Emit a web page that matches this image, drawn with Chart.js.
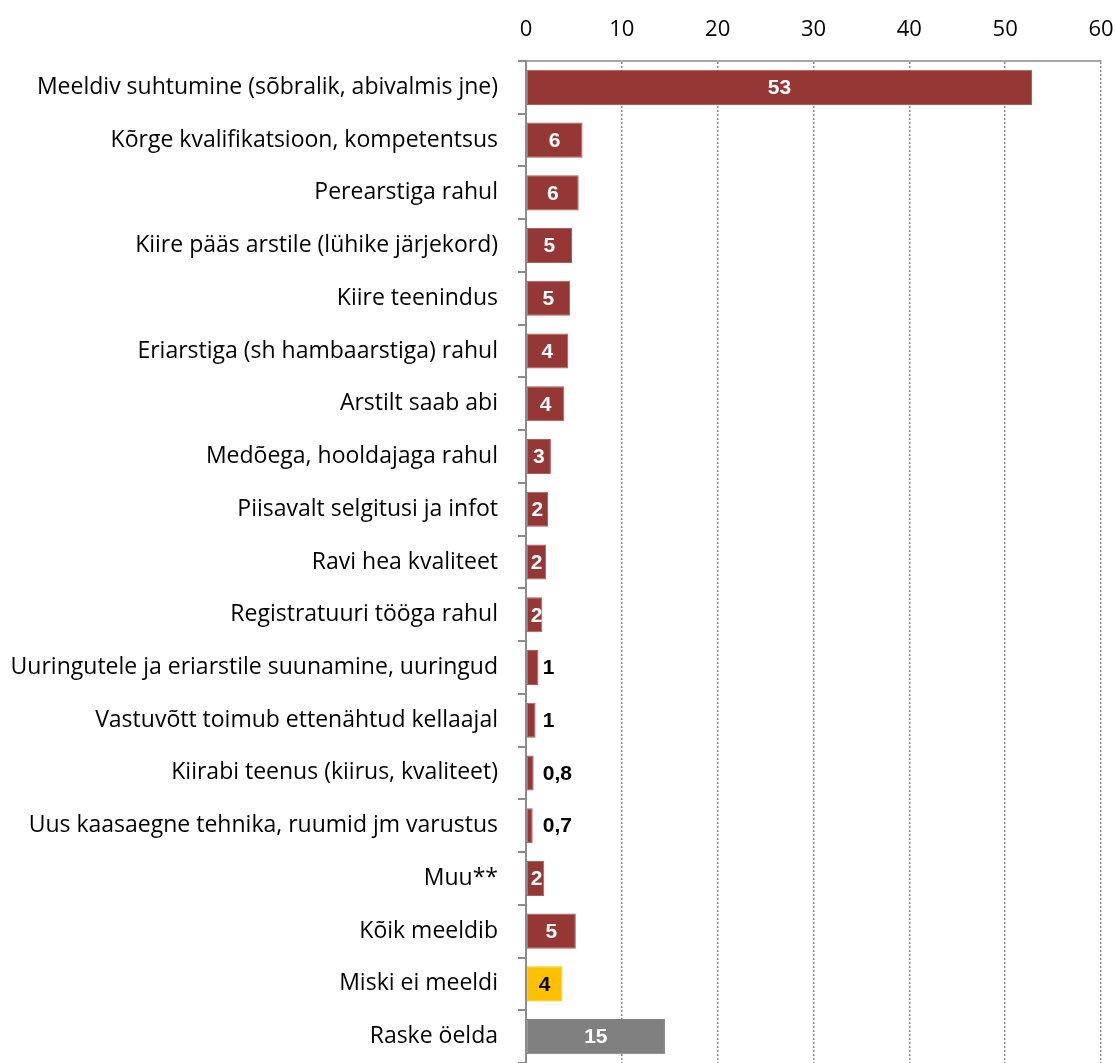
<!DOCTYPE html>
<html>
<head>
<meta charset="utf-8">
<script src="https://cdn.jsdelivr.net/npm/chart.js@4/dist/chart.umd.min.js"></script>
<style>
  html, body { margin: 0; padding: 0; background: #fff; overflow: hidden; }
  canvas { display: block; }
</style>
</head>
<body>
<canvas id="chart" width="1115" height="1063"></canvas>
<script>
'use strict';

// categories as they appear top to bottom
let categories = [
  'Meeldiv suhtumine (sõbralik, abivalmis jne)',
  'Kõrge kvalifikatsioon, kompetentsus',
  'Perearstiga rahul',
  'Kiire pääs arstile (lühike järjekord)',
  'Kiire teenindus',
  'Eriarstiga (sh hambaarstiga) rahul',
  'Arstilt saab abi',
  'Medõega, hooldajaga rahul',
  'Piisavalt selgitusi ja infot',
  'Ravi hea kvaliteet',
  'Registratuuri tööga rahul',
  'Uuringutele ja eriarstile suunamine, uuringud',
  'Vastuvõtt toimub ettenähtud kellaajal',
  'Kiirabi teenus (kiirus, kvaliteet)',
  'Uus kaasaegne tehnika, ruumid jm varustus',
  'Muu**',
  'Kõik meeldib',
  'Miski ei meeldi',
  'Raske öelda'
];

// percentages
let values = [52.8, 5.9, 5.5, 4.8, 4.6, 4.4, 4.0, 2.6, 2.3, 2.1, 1.7, 1.3, 1.0, 0.8, 0.7, 1.9, 5.2, 3.8, 14.5];

// tick labels on the top axis
let tickValues = [0, 10, 20, 30, 40, 50, 60];

let barColors = categories.map(function (c) {
  if (c === 'Miski ei meeldi') return '#FFC000';
  if (c === 'Raske öelda') return '#808080';
  return '#953735';
});
let borderColors = categories.map(function (c) {
  if (c === 'Miski ei meeldi') return '#FFC000';
  if (c === 'Raske öelda') return '#808080';
  return '#B25C5A';
});

function formatValue(v) {
  if (v < 1) return v.toFixed(1).replace('.', ',');
  return String(Math.round(v));
}

// draws the value on each bar (small ones go just right of the bar)
const valueLabels = {
  id: 'valueLabels',
  afterDatasetsDraw(chart) {
    let ctx = chart.ctx;
    let meta = chart.getDatasetMeta(0);
    ctx.save();
    ctx.font = 'bold 21px "Liberation Sans", Arial, sans-serif';
    ctx.textBaseline = 'middle';
    meta.data.forEach(function (bar, i) {
      let v = values[i];
      let text = formatValue(v);
      if (v >= 1.5) {
        ctx.textAlign = 'center';
        ctx.fillStyle = categories[i] === 'Miski ei meeldi' ? '#000' : '#fff';
        let x = (bar.x + bar.base) / 2;
        let w = ctx.measureText(text).width;
        if (x - w / 2 < bar.base + 4) x = bar.base + 4 + w / 2;
        ctx.fillText(text, x, bar.y + 1);
      } else {
        ctx.textAlign = 'left';
        ctx.fillStyle = '#000';
        ctx.fillText(text, Math.max(bar.x + 4, bar.base + 16), bar.y + 1);
      }
    });
    ctx.restore();
  }
};

let ctx = document.getElementById('chart').getContext('2d');

let chartObject = new Chart(ctx, {
  type: 'bar',
  data: {
    labels: categories,
    datasets: [{
      data: values,
      backgroundColor: barColors,
      borderColor: borderColors,
      borderWidth: 1,
      borderSkipped: false,
      categoryPercentage: 1,
      barPercentage: 0.665
    }]
  },
  options: {
    indexAxis: 'y',
    responsive: false,
    animation: false,
    layout: { padding: { left: 0, right: 14, top: 0, bottom: 0 } },
    plugins: {
      legend: { display: false },
      tooltip: { enabled: false }
    },
    scales: {
      x: {
        position: 'top',
        min: 0,
        max: 60,
        afterBuildTicks(scale) {
          scale.ticks = tickValues.map(function (v) { return { value: v }; });
        },
        afterFit(scale) {
          scale.height = 61;
          scale.paddingLeft = 0;
          scale.paddingRight = 0;
        },
        grid: {
          color: '#8c8c8c',
          lineWidth: 1.5,
          drawTicks: false
        },
        border: { display: true, color: '#a6a6a6', width: 2, dash: [2, 2] },
        ticks: {
          color: '#000',
          padding: 18,
          font: { family: '"Open Sans", sans-serif', size: 22 }
        }
      },
      y: {
        afterFit(scale) {
          scale.width = 526;
          scale.paddingTop = 0;
          scale.paddingBottom = 0;
        },
        grid: {
          display: true,
          drawOnChartArea: false,
          drawTicks: true,
          tickLength: 8,
          color: '#8c8c8c',
          lineWidth: 2
        },
        border: { display: true, color: '#8c8c8c', width: 2 },
        ticks: {
          color: '#000',
          padding: 20,
          autoSkip: false,
          font: { family: '"Open Sans", sans-serif', size: 23 }
        }
      }
    }
  },
  plugins: [valueLabels]
});
</script>
</body>
</html>
